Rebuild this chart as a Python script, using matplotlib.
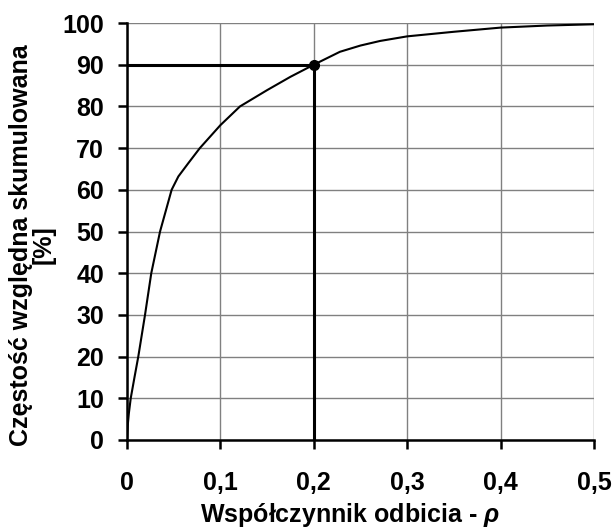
import matplotlib
matplotlib.use("Agg")
import matplotlib.pyplot as plt

rho = [0.0, 0.001, 0.002, 0.004, 0.008, 0.0121, 0.0193, 0.026, 0.0354, 0.0478, 0.055, 0.0657, 0.078,
       0.1, 0.121, 0.15, 0.175, 0.2, 0.228, 0.25, 0.271, 0.3, 0.35, 0.4, 0.45, 0.5]
cum = [0.0, 4.0, 6.4, 10.0, 15.0, 20.0, 30.0, 40.0, 50.0, 60.0, 63.2, 66.4, 70.0,
       75.5, 80.0, 83.9, 87.1, 90.0, 93.1, 94.6, 95.7, 96.8, 97.9, 98.9, 99.4, 99.7]
marker_x = 0.2
marker_y = 90
xticks = [0, 0.1, 0.2, 0.3, 0.4, 0.5]
xticklabels = ["0", "0,1", "0,2", "0,3", "0,4", "0,5"]
yticks = [0, 10, 20, 30, 40, 50, 60, 70, 80, 90, 100]

plt.rcParams['font.family'] = ['Liberation Sans', 'DejaVu Sans']
plt.rcParams['font.weight'] = 'bold'
plt.rcParams['mathtext.fontset'] = 'custom'
plt.rcParams['mathtext.it'] = 'Liberation Sans:italic:bold'
plt.rcParams['mathtext.rm'] = 'Liberation Sans:bold'

fig = plt.figure(figsize=(6.12, 5.28), dpi=100)
ax = fig.add_axes([0.2075, 0.1667, 0.763, 0.7897])

ax.set_xlim(0, 0.5)
ax.set_ylim(0, 100)
ax.grid(True, color='#808080', linewidth=1.0)
ax.set_axisbelow(True)

ax.plot(rho, cum, color='black', linewidth=1.5, zorder=3, solid_joinstyle='round')
ax.plot([0, marker_x], [marker_y, marker_y], color='black', linewidth=2.2, zorder=4)
ax.plot([marker_x, marker_x], [0, marker_y], color='black', linewidth=2.2, zorder=4)
ax.plot([marker_x], [marker_y], 'o', color='black', markersize=7, zorder=5)

for s in ['top', 'right']:
    ax.spines[s].set_visible(False)
for s in ['left', 'bottom']:
    ax.spines[s].set_linewidth(1.8)
    ax.spines[s].set_color('black')

ax.set_xticks(xticks)
ax.set_xticklabels(xticklabels)
ax.set_yticks(yticks)
ax.tick_params(axis='both', direction='out', length=6.5, width=1.8, labelsize=18)
ax.tick_params(axis='x', pad=16)
ax.tick_params(axis='y', pad=10)
for lab in ax.get_xticklabels() + ax.get_yticklabels():
    lab.set_fontweight('bold')

ax.set_xlabel(r'Współczynnik odbicia - $\it{\rho}$', fontsize=18, fontweight='bold')
ax.set_ylabel('Częstość względna skumulowana\n[%]', fontsize=18, fontweight='bold', linespacing=0.92)
ax.xaxis.set_label_coords(0.477, -0.147)
ax.yaxis.set_label_coords(-0.153, 0.468)

fig.savefig('out.png', dpi=100)
